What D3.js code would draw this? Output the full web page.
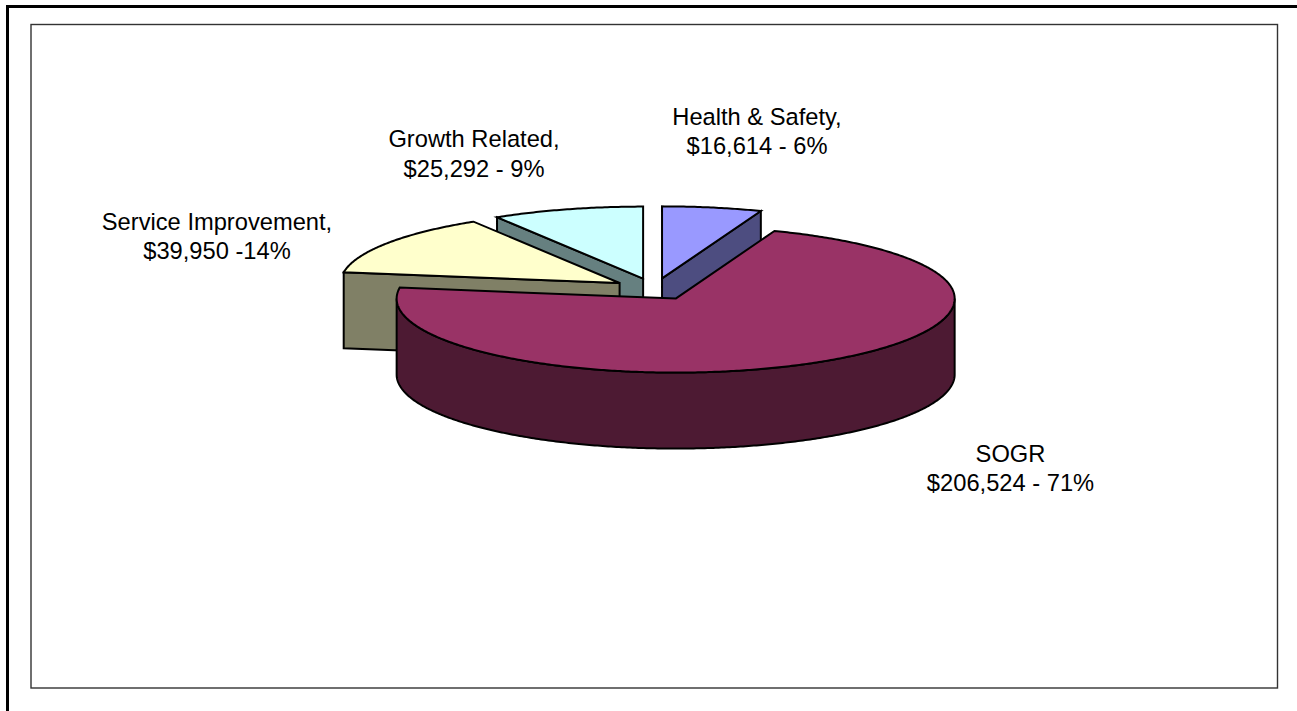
<!DOCTYPE html>
<html>
    <head>
        <title>Capital budget by category</title>
        <script src="https://d3js.org/d3.v7.min.js"></script>
        <style>
            body { margin: 0; background: #fff; }
            svg { display: block; }
            text { font-family: "Liberation Sans", Arial, sans-serif; font-size: 23.7px; fill: #000; text-anchor: middle; }
        </style>
    </head>
    <body>
        <script>
            const categories = ["Health & Safety", "SOGR", "Service Improvement", "Growth Related"];
            const values = [16614, 206524, 39950, 25292];
            const labelLine1 = ["Health & Safety,", "SOGR", "Service Improvement,", "Growth Related,"];
            const labelLine2 = ["$16,614 - 6%", "$206,524 - 71%", "$39,950 -14%", "$25,292 - 9%"];
            const colors = ["#9999ff", "#993366", "#ffffcc", "#ccffff"];

            const width = 1297;
            const height = 711;
            const cx = 654.5, cy = 289;   // centre before explosion
            const rx = 279;
            const ryBack = 72, ryFront = 74;    // perspective: the back half is a bit flatter
            const depth = 76;
            const explode = 0.15;
            const labelX = [757, 1010.5, 217, 474];
            const labelY = [124.5, 461.5, 229.5, 147];
            const lineGap = 29.5;
            const drawOrder = [3, 0, 2, 1]; // back to front

            const svg = d3.select("body")
                .append("svg")
                .attr("width", width)
                .attr("height", height);

            // outer frame, open on the right and at the bottom
            svg.append("path")
                .attr("d", "M7.5,711V6.5H1297")
                .attr("fill", "none")
                .attr("stroke", "#000")
                .attr("stroke-width", 3);

            // chart area border
            svg.append("rect")
                .attr("x", 31)
                .attr("y", 24.5)
                .attr("width", 1246.5)
                .attr("height", 663.5)
                .attr("fill", "#fff")
                .attr("stroke", "#333")
                .attr("stroke-width", 1.4);

            const x = d3.scaleLinear().domain([-1, 1]).range([cx - rx, cx + rx]);
            const y = d3.scaleLinear().domain([-1, 0, 1]).range([cy + ryFront, cy, cy - ryBack]);

            const color = d3.scaleOrdinal(categories, colors);
            const sideColor = c => {
                const r = d3.rgb(c);
                return d3.rgb(r.r / 2, r.g / 2, r.b / 2).formatHex();
            };

            const slices = d3.pie().sort(null)(values);
            const line = d3.line();

            slices.forEach(s => {
                s.mid = (s.startAngle + s.endAngle) / 2;
                s.ox = explode * Math.sin(s.mid);
                s.oy = explode * Math.cos(s.mid);
            });

            const rimPoint = (s, a, dy) => [
                x(s.ox + Math.sin(a)),
                y(s.oy + Math.cos(a)) + dy
            ];
            const apex = (s, dy) => [x(s.ox), y(s.oy) + dy];

            function arcPoints(s, a0, a1, dy) {
                const n = Math.max(2, Math.ceil(Math.abs(a1 - a0) / 0.01));
                return d3.range(n + 1).map(i => rimPoint(s, a0 + (a1 - a0) * i / n, dy));
            }

            function addShape(g, pts, fill) {
                g.append("path")
                    .attr("d", line(pts) + "Z")
                    .attr("fill", fill)
                    .attr("stroke", "#000")
                    .attr("stroke-width", 2)
                    .attr("stroke-linejoin", "miter");
            }

            const pieG = svg.append("g");

            drawOrder.forEach(i => {
                const s = slices[i];
                const g = pieG.append("g");
                const side = sideColor(color(categories[i]));

                // cut faces that turn towards the viewer
                if (Math.sin(s.startAngle) < -1e-6) {
                    const p = rimPoint(s, s.startAngle, 0);
                    addShape(g, [apex(s, 0), p, [p[0], p[1] + depth], apex(s, depth)], side);
                }
                if (Math.sin(s.endAngle) > 1e-6) {
                    const p = rimPoint(s, s.endAngle, 0);
                    addShape(g, [apex(s, 0), p, [p[0], p[1] + depth], apex(s, depth)], side);
                }

                // front part of the outer wall
                const a0 = Math.max(s.startAngle, Math.PI / 2);
                const a1 = Math.min(s.endAngle, Math.PI * 1.5);
                if (a1 > a0) {
                    addShape(g, arcPoints(s, a0, a1, 0).concat(arcPoints(s, a1, a0, depth)), side);
                }

                // top
                addShape(g, [apex(s, 0)].concat(arcPoints(s, s.startAngle, s.endAngle, 0)), color(categories[i]));
            });

            const labels = svg.append("g")
                .selectAll("text")
                .data(categories)
                .enter()
                .append("text")
                .attr("x", (d, i) => labelX[i])
                .attr("y", (d, i) => labelY[i]);

            labels.append("tspan")
                .attr("x", (d, i) => labelX[i])
                .text((d, i) => labelLine1[i]);

            labels.append("tspan")
                .attr("x", (d, i) => labelX[i])
                .attr("dy", lineGap)
                .text((d, i) => labelLine2[i]);
        </script>
    </body>
</html>
